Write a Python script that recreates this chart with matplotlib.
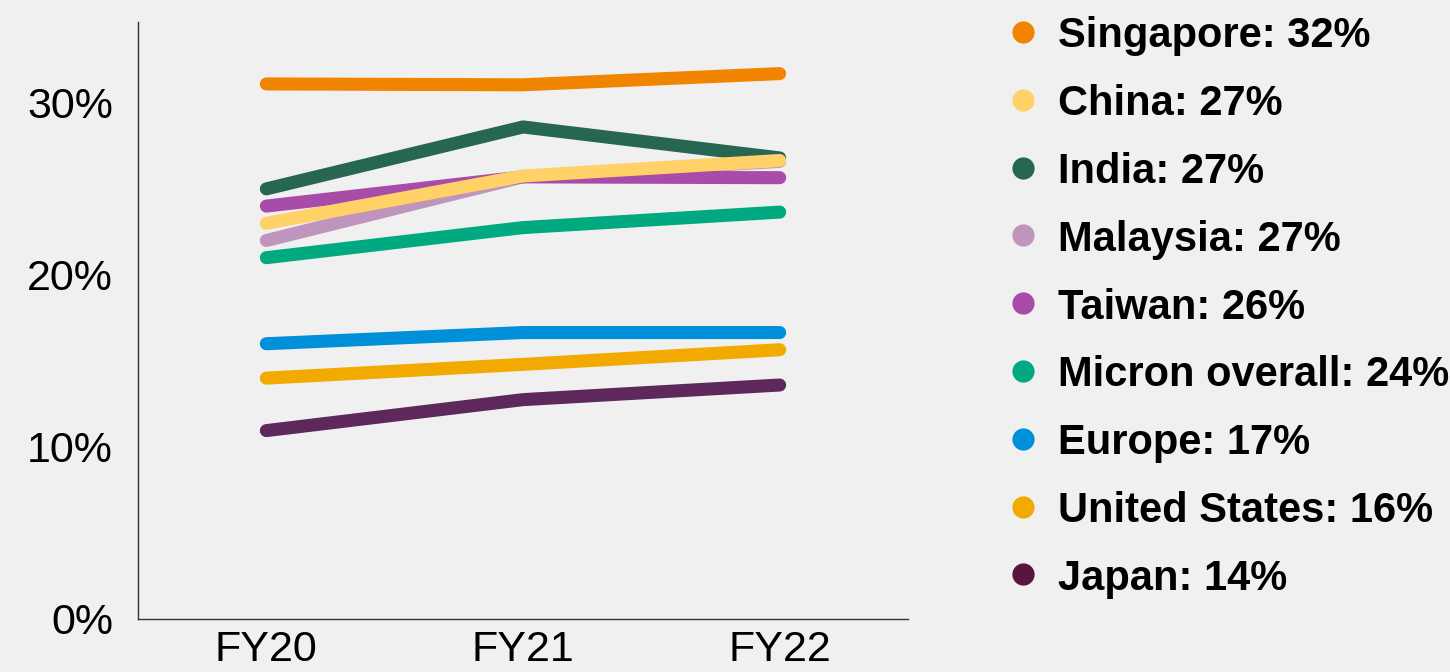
import matplotlib.pyplot as plt
from matplotlib.lines import Line2D

plt.rcParams['font.family'] = ['Liberation Sans', 'DejaVu Sans']

BG = '#f0f0f0'

years = ['FY20', 'FY21', 'FY22']

singapore = [31.1, 31.05, 31.7]
china = [23.0, 25.75, 26.65]
india = [25.0, 28.6, 26.8]
malaysia = [22.0, 25.7, 26.6]
taiwan = [24.0, 25.7, 25.65]
micron = [21.0, 22.75, 23.65]
europe = [16.0, 16.65, 16.65]
united_states = [14.0, 14.8, 15.65]
japan = [10.95, 12.75, 13.6]

# legend order, top to bottom
legend_names = ['Singapore', 'China', 'India', 'Malaysia', 'Taiwan',
                'Micron overall', 'Europe', 'United States', 'Japan']
legend_values = [32, 27, 27, 27, 26, 24, 17, 16, 14]

series = {
    'Singapore': singapore,
    'China': china,
    'India': india,
    'Malaysia': malaysia,
    'Taiwan': taiwan,
    'Micron overall': micron,
    'Europe': europe,
    'United States': united_states,
    'Japan': japan,
}

colors = {
    'Singapore': '#f28500',
    'China': '#ffd166',
    'India': '#276652',
    'Malaysia': '#c095bd',
    'Taiwan': '#a84ba9',
    'Micron overall': '#00a97f',
    'Europe': '#0090da',
    'United States': '#f2a900',
    'Japan': '#5e285c',
}
dot_colors = dict(colors)
dot_colors['Japan'] = '#5a1440'

# drawing order, bottom first
draw_order = ['Japan', 'United States', 'Europe', 'Micron overall', 'Malaysia',
              'Taiwan', 'India', 'China', 'Singapore']

fig = plt.figure(figsize=(14.5, 6.72), dpi=100, facecolor=BG)
ax = fig.add_axes([138 / 1450, 53 / 672, 770 / 1450, 597 / 672])
ax.set_facecolor(BG)

x = list(range(len(years)))
for name in draw_order:
    ax.plot(x, series[name], color=colors[name], lw=9.4,
            solid_capstyle='round', solid_joinstyle='round')

ax.set_xlim(-0.5, 2.5)
ax.set_ylim(0, 34.7)
ax.set_xticks(x)
ax.set_xticklabels(years)
ax.set_yticks([0, 10, 20, 30])
ax.set_yticklabels(['0%', '10%', '20%', '30%'])
ax.tick_params(axis='both', length=0, labelsize=31, colors='#000000')
ax.tick_params(axis='y', pad=18)
ax.tick_params(axis='x', pad=8)

for side in ['top', 'right']:
    ax.spines[side].set_visible(False)
for side in ['left', 'bottom']:
    ax.spines[side].set_color('#333333')
    ax.spines[side].set_linewidth(1.0)

# legend drawn by hand so rows line up with the reference
top_px = 32
step_px = 67.8
for i, name in enumerate(legend_names):
    yy = 1 - (top_px + i * step_px) / 672
    fig.add_artist(Line2D([1023 / 1450], [yy], marker='o', markersize=16,
                          markerfacecolor=dot_colors[name], markeredgewidth=0,
                          linestyle='none'))
    fig.text(1058 / 1450, yy, f'{name}: {legend_values[i]}%', fontsize=30,
             fontweight='bold', va='center_baseline', ha='left', color='#000000')

fig.savefig('out.png', dpi=100, facecolor=BG)
